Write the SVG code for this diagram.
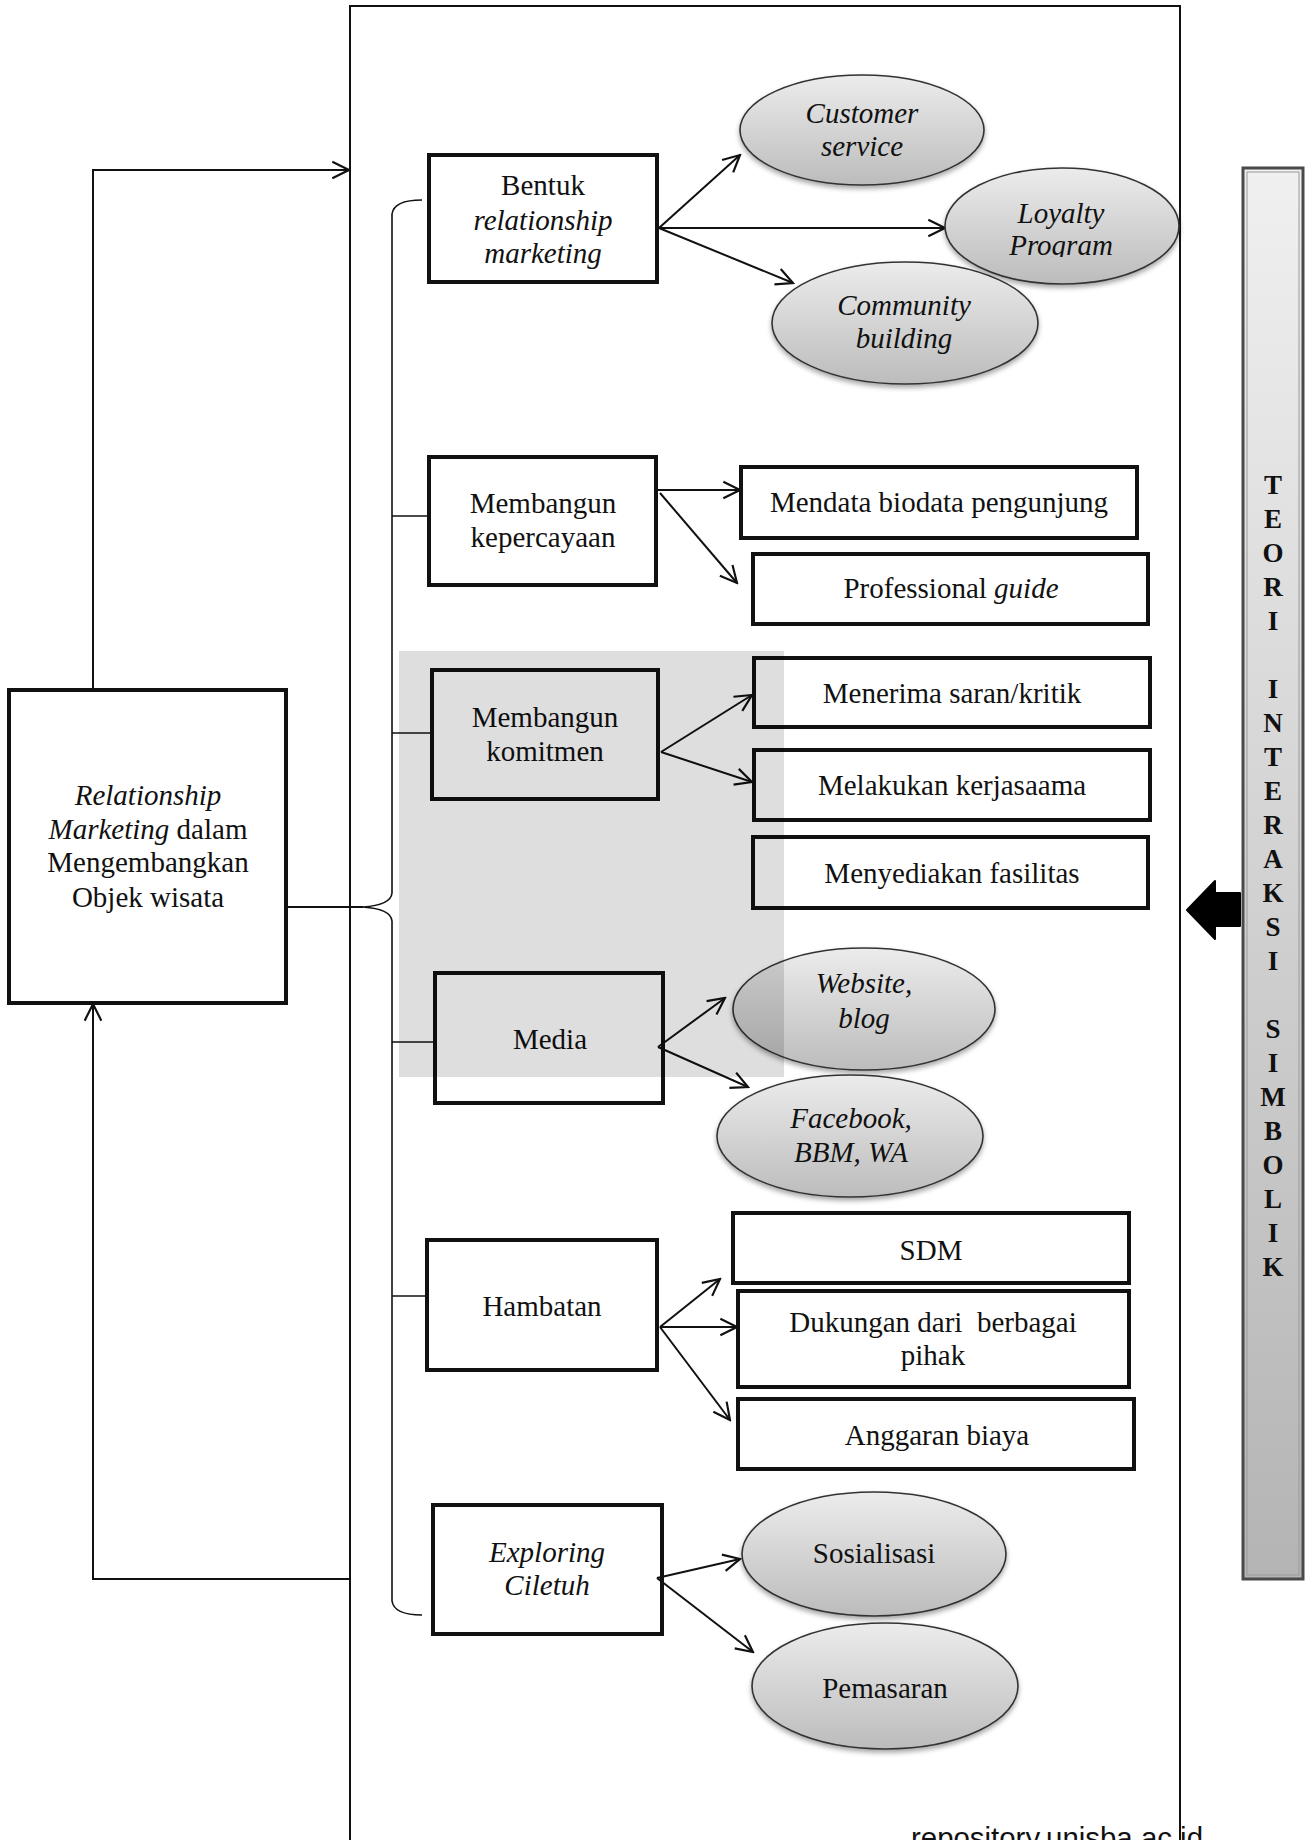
<svg xmlns="http://www.w3.org/2000/svg" width="1311" height="1840" viewBox="0 0 1311 1840">
<style>
  .t{font-family:"Liberation Serif","Times New Roman",serif;font-size:29px;fill:#111;text-anchor:middle}
  .i{font-style:italic}
  .box{fill:none;stroke:#111;stroke-width:4}
  .ell{fill:url(#eg);stroke:#333;stroke-width:1.6;filter:url(#sh)}
  .ln{fill:none;stroke:#111;stroke-width:2}
  .thin{fill:none;stroke:#111;stroke-width:1.6}
  .bar{font-family:"Liberation Serif","Times New Roman",serif;font-size:27px;font-weight:bold;fill:#111;text-anchor:middle}
</style>
<defs>
  <linearGradient id="eg" x1="0" y1="0" x2="0" y2="1">
    <stop offset="0" stop-color="#ececec"/>
    <stop offset="1" stop-color="#bcbcbc"/>
  </linearGradient>
  <linearGradient id="bg" x1="0" y1="0" x2="0" y2="1">
    <stop offset="0" stop-color="#f0f0f0"/>
    <stop offset="1" stop-color="#b4b4b4"/>
  </linearGradient>
  <filter id="sh" x="-10%" y="-10%" width="120%" height="130%">
    <feDropShadow dx="0" dy="3" stdDeviation="2.5" flood-color="#000" flood-opacity="0.35"/>
  </filter>
  <marker id="ah" viewBox="0 0 12 12" refX="11" refY="6" markerWidth="20" markerHeight="20" markerUnits="userSpaceOnUse" orient="auto">
    <path d="M1,1 L11,6 L1,11" fill="none" stroke="#111" stroke-width="1.3"/>
  </marker>
  <clipPath id="progclip"><rect x="940" y="160" width="250" height="97"/></clipPath>
</defs>

<rect width="1311" height="1840" fill="#fff"/>

<!-- main frame -->
<g id="frame">
  <path d="M350,1840 V6 H1180 V1840" fill="none" stroke="#111" stroke-width="2"/>
</g>

<!-- connectors -->
<g id="connectors">
  <path class="ln" d="M93,690 V170 H349" marker-end="url(#ah)"/>
  <path class="ln" d="M350,1579 H93 V1004" marker-end="url(#ah)"/>
  <path class="ln" d="M286,907 H363"/>
  <path class="thin" d="M422,200 Q394,200 392,214 V893 Q391,905 363,907 Q391,909 392,921 V1601 Q394,1615 422,1615"/>
  <path class="thin" d="M392,516 H429"/>
  <path class="thin" d="M392,733 H432"/>
  <path class="thin" d="M392,1042 H435"/>
  <path class="thin" d="M392,1296 H427"/>
  <path class="ln" d="M659,228 L740,155" marker-end="url(#ah)"/>
  <path class="ln" d="M659,228 L945,228" marker-end="url(#ah)"/>
  <path class="ln" d="M659,228 L793,283" marker-end="url(#ah)"/>
  <path class="ln" d="M658,490 L740,490" marker-end="url(#ah)"/>
  <path class="ln" d="M660,493 L737,583" marker-end="url(#ah)"/>
  <path class="ln" d="M661,752 L752,695" marker-end="url(#ah)"/>
  <path class="ln" d="M661,752 L752,782" marker-end="url(#ah)"/>
  <path class="ln" d="M658,1047 L725,998" marker-end="url(#ah)"/>
  <path class="ln" d="M658,1047 L748,1087" marker-end="url(#ah)"/>
  <path class="ln" d="M660,1327 L720,1279" marker-end="url(#ah)"/>
  <path class="ln" d="M660,1327 L737,1327" marker-end="url(#ah)"/>
  <path class="ln" d="M660,1327 L730,1420" marker-end="url(#ah)"/>
  <path class="ln" d="M657,1578 L740,1559" marker-end="url(#ah)"/>
  <path class="ln" d="M657,1578 L753,1652" marker-end="url(#ah)"/>
</g>

<!-- left main node -->
<g id="n-main">
  <rect class="box" x="9" y="690" width="277" height="313"/>
  <text class="t" x="148" y="805"><tspan class="i">Relationship</tspan></text>
  <text class="t" x="148" y="839"><tspan class="i">Marketing</tspan> dalam</text>
  <text class="t" x="148" y="872">Mengembangkan</text>
  <text class="t" x="148" y="907">Objek wisata</text>
</g>

<g id="n-bentuk">
  <rect class="box" x="429" y="155" width="228" height="127"/>
  <text class="t" x="543" y="195">Bentuk</text>
  <text class="t i" x="543" y="230">relationship</text>
  <text class="t i" x="543" y="263">marketing</text>
</g>

<g id="n-customer">
  <ellipse class="ell" cx="862" cy="130" rx="122" ry="55"/>
  <text class="t i" x="862" y="123">Customer</text>
  <text class="t i" x="862" y="156">service</text>
</g>
<g id="n-loyalty">
  <ellipse class="ell" cx="1062" cy="226" rx="117" ry="58"/>
  <text class="t i" x="1061" y="223">Loyalty</text>
  <text class="t i" x="1061" y="255" clip-path="url(#progclip)">Program</text>
</g>
<g id="n-community">
  <ellipse class="ell" cx="905" cy="323" rx="133" ry="61"/>
  <text class="t i" x="904" y="315">Community</text>
  <text class="t i" x="904" y="348">building</text>
</g>

<g id="n-kepercayaan">
  <rect class="box" x="429" y="457" width="227" height="128"/>
  <text class="t" x="543" y="513">Membangun</text>
  <text class="t" x="543" y="547">kepercayaan</text>
</g>
<g id="n-mendata">
  <rect class="box" x="741" y="467" width="396" height="71"/>
  <text class="t" x="939" y="512">Mendata biodata pengunjung</text>
</g>
<g id="n-guide">
  <rect class="box" x="753" y="554" width="395" height="70"/>
  <text class="t" x="951" y="598">Professional <tspan class="i">guide</tspan></text>
</g>

<g id="n-komitmen">
  <rect class="box" x="432" y="670" width="226" height="129"/>
  <text class="t" x="545" y="727">Membangun</text>
  <text class="t" x="545" y="761">komitmen</text>
</g>
<g id="n-menerima">
  <rect class="box" x="754" y="658" width="396" height="69"/>
  <text class="t" x="952" y="703">Menerima saran/kritik</text>
</g>
<g id="n-melakukan">
  <rect class="box" x="754" y="750" width="396" height="70"/>
  <text class="t" x="952" y="795">Melakukan kerjasaama</text>
</g>
<g id="n-menyediakan">
  <rect class="box" x="753" y="837" width="395" height="71"/>
  <text class="t" x="952" y="883">Menyediakan fasilitas</text>
</g>

<g id="n-media">
  <rect class="box" x="435" y="973" width="228" height="130"/>
  <text class="t" x="550" y="1049">Media</text>
</g>
<g id="n-website">
  <ellipse class="ell" cx="864" cy="1009" rx="131" ry="61"/>
  <text class="t i" x="864" y="993">Website,</text>
  <text class="t i" x="864" y="1028">blog</text>
</g>
<g id="n-facebook">
  <ellipse class="ell" cx="850" cy="1136" rx="133" ry="61"/>
  <text class="t i" x="851" y="1128">Facebook,</text>
  <text class="t i" x="851" y="1162">BBM, WA</text>
</g>

<g id="n-hambatan">
  <rect class="box" x="427" y="1240" width="230" height="130"/>
  <text class="t" x="542" y="1316">Hambatan</text>
</g>
<g id="n-sdm">
  <rect class="box" x="733" y="1213" width="396" height="70"/>
  <text class="t" x="931" y="1260">SDM</text>
</g>
<g id="n-dukungan">
  <rect class="box" x="738" y="1291" width="391" height="96"/>
  <text class="t" x="933" y="1332" xml:space="preserve">Dukungan dari  berbagai</text>
  <text class="t" x="933" y="1365">pihak</text>
</g>
<g id="n-anggaran">
  <rect class="box" x="738" y="1399" width="396" height="70"/>
  <text class="t" x="937" y="1445">Anggaran biaya</text>
</g>

<g id="n-exploring">
  <rect class="box" x="433" y="1505" width="229" height="129"/>
  <text class="t i" x="547" y="1562">Exploring</text>
  <text class="t i" x="547" y="1595">Ciletuh</text>
</g>
<g id="n-sosialisasi">
  <ellipse class="ell" cx="874" cy="1554" rx="132" ry="62"/>
  <text class="t" x="874" y="1563">Sosialisasi</text>
</g>
<g id="n-pemasaran">
  <ellipse class="ell" cx="885" cy="1686" rx="133" ry="63"/>
  <text class="t" x="885" y="1698">Pemasaran</text>
</g>

<!-- gray region overlay -->
<rect x="399" y="651" width="385" height="426" fill="#000" fill-opacity="0.13"/>

<!-- theory bar -->
<g id="n-teori">
  <rect x="1243" y="168" width="60" height="1411" fill="url(#bg)" stroke="#4a4a4a" stroke-width="3"/>
  <rect x="1247" y="172" width="52" height="1403" fill="none" stroke="#9a9a9a" stroke-width="1"/>
  <text class="bar" x="1273" y="494">T</text>
  <text class="bar" x="1273" y="528">E</text>
  <text class="bar" x="1273" y="562">O</text>
  <text class="bar" x="1273" y="596">R</text>
  <text class="bar" x="1273" y="630">I</text>
  <text class="bar" x="1273" y="698">I</text>
  <text class="bar" x="1273" y="732">N</text>
  <text class="bar" x="1273" y="766">T</text>
  <text class="bar" x="1273" y="800">E</text>
  <text class="bar" x="1273" y="834">R</text>
  <text class="bar" x="1273" y="868">A</text>
  <text class="bar" x="1273" y="902">K</text>
  <text class="bar" x="1273" y="936">S</text>
  <text class="bar" x="1273" y="970">I</text>
  <text class="bar" x="1273" y="1038">S</text>
  <text class="bar" x="1273" y="1072">I</text>
  <text class="bar" x="1273" y="1106">M</text>
  <text class="bar" x="1273" y="1140">B</text>
  <text class="bar" x="1273" y="1174">O</text>
  <text class="bar" x="1273" y="1208">L</text>
  <text class="bar" x="1273" y="1242">I</text>
  <text class="bar" x="1273" y="1276">K</text>
</g>
<g id="block-arrow">
  <path d="M1187,910 L1215,881 L1215,893 L1240,893 L1240,926 L1215,926 L1215,939 Z" fill="#000" stroke="#000" stroke-width="2" stroke-linejoin="round"/>
</g>

<text x="911" y="1848" font-family="'Liberation Sans',Arial,sans-serif" font-size="30" fill="#111" textLength="292" lengthAdjust="spacingAndGlyphs">repository.unisba.ac.id</text>
</svg>
